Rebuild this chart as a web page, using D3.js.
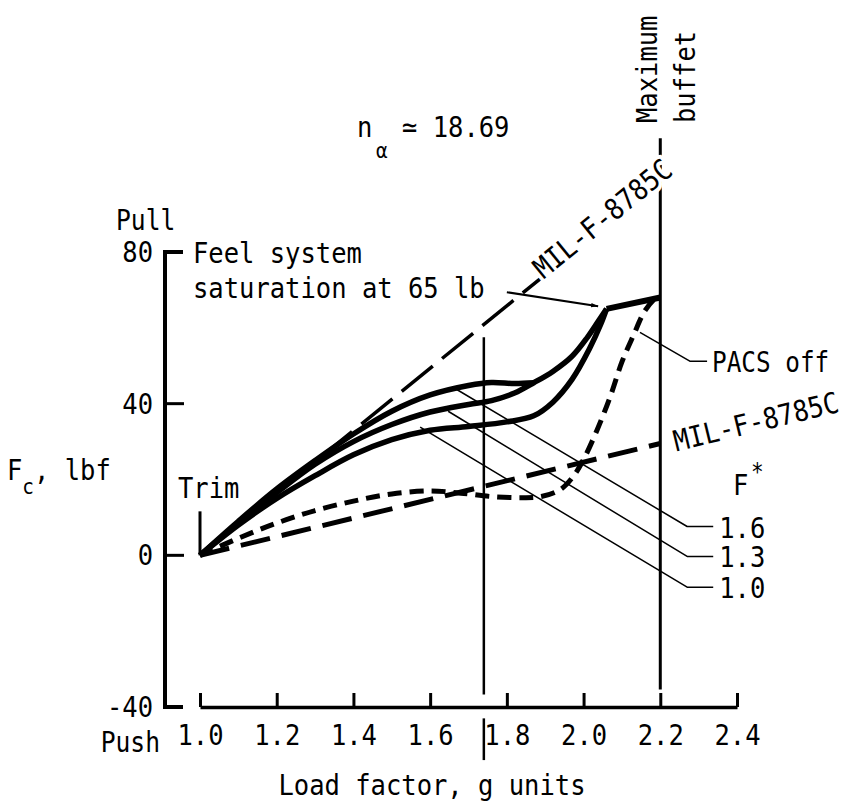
<!DOCTYPE html>
<html>
<head>
<meta charset="utf-8">
<script src="https://cdn.jsdelivr.net/npm/d3@7"></script>
<style>
  body { margin: 0; background: #fff; }
  text { font-family: "DejaVu Sans Mono", monospace; fill: #000; }
</style>
</head>
<body>
<svg id="chart" width="855" height="804"></svg>
<script>
// load factor ticks and force ticks
const xTicks = [1.0, 1.2, 1.4, 1.6, 1.8, 2.0, 2.2, 2.4];
const yTicks = [80, 40, 0, -40];

// stick force curves [n, Fc], one per F* value
const curveF16 = [[1.0,0],[1.1,9],[1.2,17.5],[1.3,25],[1.4,32],[1.5,38],[1.6,42.3],[1.7,44.8],[1.76,45.6],[1.82,45.3],[1.87,45.5]];
const curveF13 = [[1.0,0],[1.1,8.5],[1.2,16.5],[1.3,24],[1.4,30],[1.5,34.5],[1.6,37.8],[1.7,39.8],[1.76,40.8],[1.82,42.8],[1.87,45.5],[1.92,48.5],[1.97,52.5],[2.01,57.5],[2.04,62],[2.06,65]];
const curveF10 = [[1.0,0],[1.1,8],[1.2,15],[1.3,21],[1.4,26.5],[1.5,30.5],[1.6,33],[1.7,34],[1.8,35.2],[1.87,36.8],[1.92,40.4],[1.97,46.4],[2.015,54.4],[2.045,61],[2.06,65]];
const saturation = [[2.06,65],[2.2,68]];
const pacsOff = [[1.0,0],[1.1,4.5],[1.2,8.5],[1.3,11.8],[1.4,14.3],[1.5,16.2],[1.6,17],[1.68,16.4],[1.76,15.5],[1.84,15.2],[1.89,15.5],[1.94,17.4],[1.973,20.8],[2.0,25.3],[2.035,33],[2.07,42],[2.1,51],[2.13,58],[2.16,64.5],[2.19,68],[2.2,68.3]];
const milUpper = [[1.0,0],[1.89,73.2]];
const milLower = [[1.0,0],[2.2,29.5]];

// reference lines
const trimLine = [[1.0,0],[1.0,11.6]];
const nAlphaLine = [[1.74,57.5],[1.74,-36.7]];
const nAlphaStub = [[1.74,-43],[1.74,-54]];
const buffetLine = [[2.2,110],[2.2,-35.4]];

// leaders
const leaders = [
  { label: '1.6', pts: [[1.665,44],[2.27,7.6],[2.338,7.6]] },
  { label: '1.3', pts: [[1.647,38],[2.27,-0.3],[2.338,-0.3]] },
  { label: '1.0', pts: [[1.574,33.8],[2.27,-8.4],[2.338,-8.4]] }
];
const pacsLeader = [[2.147,58.8],[2.277,51.2],[2.322,51.2]];
const satArrow = [[1.80,69.4],[2.038,65.7]];

const svg = d3.select('svg#chart');
const x = d3.scaleLinear().domain([1.0, 2.4]).range([200, 737]);
const y = d3.scaleLinear().domain([-40, 80]).range([707, 252]);
const axisX = 165;
const line = d3.line().x(d => x(d[0])).y(d => y(d[1]));
const smooth = d3.line().x(d => x(d[0])).y(d => y(d[1])).curve(d3.curveCatmullRom.alpha(0.5));

svg.append('defs').append('marker')
  .attr('id', 'arr').attr('viewBox', '0 0 10 10').attr('refX', 10).attr('refY', 5)
  .attr('markerWidth', 7).attr('markerHeight', 7).attr('orient', 'auto')
  .attr('markerUnits', 'userSpaceOnUse')
  .append('path').attr('d', 'M0,2 L10,5 L0,8 Z').attr('fill', '#000');

function path(data, gen, w, dash) {
  return svg.append('path').attr('d', gen(data))
    .attr('fill', 'none').attr('stroke', '#000').attr('stroke-width', w)
    .attr('stroke-dasharray', dash || null)
    .attr('stroke-linejoin', 'round');
}

function txt(px, py, s, opt = {}) {
  const g = svg.append('g')
    .attr('transform', `translate(${px},${py}) rotate(${opt.rotate || 0}) scale(${opt.sx || 0.88},1)`);
  const t = g.append('text').attr('text-anchor', opt.anchor || 'start')
    .attr('font-size', opt.size || 29).text(s);
  if (opt.halo) t.attr('stroke', '#fff').attr('stroke-width', 8).attr('paint-order', 'stroke');
  return t;
}

// y axis
svg.append('path')
  .attr('d', `M${axisX + 18},${y(80)} H${axisX} V${y(-40)} H${axisX + 18}`)
  .attr('fill', 'none').attr('stroke', '#000').attr('stroke-width', 4);
yTicks.filter(v => v !== 80 && v !== -40).forEach(v => {
  svg.append('line').attr('x1', axisX).attr('x2', axisX + 19)
    .attr('y1', y(v)).attr('y2', y(v)).attr('stroke', '#000').attr('stroke-width', 3);
});
yTicks.forEach(v => txt(153, y(v) + 10, String(v), { anchor: 'end' }));

// x axis
const xAxis = svg.append('g').attr('transform', `translate(0,${y(-40)})`)
  .call(d3.axisBottom(x).tickValues(xTicks).tickSize(-14).tickSizeOuter(0).tickFormat(d3.format('.1f')));
xAxis.select('.domain').attr('stroke-width', 3.5);
xAxis.selectAll('.tick line').attr('stroke-width', 3);
xAxis.selectAll('.tick text').attr('font-size', 29).attr('font-family', 'DejaVu Sans Mono')
  .attr('y', 38).attr('dy', 0).attr('transform', 'scale(0.88,1)');

// reference lines
path(trimLine, line, 3);
path(nAlphaLine, line, 2.5);
path(nAlphaStub, line, 2.5);
path(buffetLine, line, 3);

// MIL-F-8785C boundaries
path(milUpper, line, 3.5, '40 12');
path(milLower, line, 5, '30 12');

// PACS off
path(pacsOff, smooth, 5, '14 8');

// F* curves
path(curveF10, smooth, 5.5);
path(curveF13, smooth, 5.5);
path(curveF16, smooth, 5.5);
path(saturation, line, 6);

// leaders
leaders.forEach(l => {
  path(l.pts, line, 1.5);
  const e = l.pts[l.pts.length - 1];
  txt(x(e[0]) + 6, y(e[1]) + 11, l.label);
});
path(pacsLeader, line, 1.5);
path(satArrow, line, 2).attr('marker-end', 'url(#arr)');

// labels
txt(116, 230, 'Pull', { size: 28 });
txt(160, 752, 'Push', { anchor: 'end', size: 28 });
const fc = txt(7, 480, 'F', {});
fc.append('tspan').attr('font-size', 22).attr('dy', 14).text('c');
fc.append('tspan').attr('font-size', 29).attr('dy', -14).text(', lbf');
txt(178, 498, 'Trim', {});
txt(193, 263, 'Feel system', {});
txt(193, 298, 'saturation at 65 lb', {});
txt(712, 372, 'PACS off', { sx: 0.84 });
txt(733, 495, 'F', {});
txt(751, 480, '*', { size: 24 });
txt(432, 795, 'Load factor, g units', { anchor: 'middle' });
txt(357, 137, 'n', {});
txt(376, 158, '\u03b1', { size: 22 });
txt(402, 137, '\u2243 18.69', {});
txt(657, 123, 'Maximum', { rotate: -90 });
txt(695, 123, 'buffet', { rotate: -90 });
txt(x(milUpper[1][0]) + 2, y(milUpper[1][1]) + 2, 'MIL-F-8785C',
  { rotate: -Math.atan2(y(0) - y(milUpper[1][1]), x(milUpper[1][0]) - x(1.0)) * 180 / Math.PI, halo: true });
txt(x(milLower[1][0]) + 16, y(milLower[1][1]) + 8, 'MIL-F-8785C',
  { rotate: -Math.atan2(y(0) - y(milLower[1][1]), x(milLower[1][0]) - x(1.0)) * 180 / Math.PI });
</script>
</body>
</html>
